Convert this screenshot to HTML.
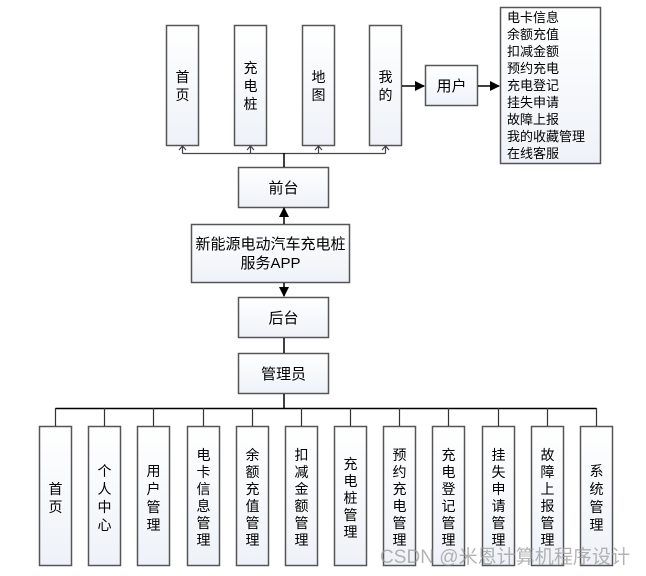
<!DOCTYPE html>
<html><head><meta charset="utf-8"><style>
html,body{margin:0;padding:0;background:#fff;}
svg{display:block;font-family:"Liberation Sans","Noto Sans CJK SC",sans-serif;}
</style></head><body>
<svg width="646" height="576" viewBox="0 0 646 576" xmlns="http://www.w3.org/2000/svg">
<defs>
<linearGradient id="g" x1="0" y1="0" x2="0" y2="1"><stop offset="0" stop-color="#fff"/><stop offset="1" stop-color="#eef2f8"/></linearGradient>
<marker id="a" markerWidth="10" markerHeight="10" refX="9" refY="5" orient="auto" markerUnits="userSpaceOnUse"><path d="M0,0 L10,5 L0,10 z" fill="#000"/></marker>
</defs>
<g stroke="#555" stroke-width="1.5" fill="url(#g)">
<rect x="166.5" y="25.5" width="32" height="120"/>
<rect x="234.5" y="25.5" width="32" height="120"/>
<rect x="302.5" y="25.5" width="32" height="120"/>
<rect x="369.5" y="25.5" width="32" height="120"/>
<rect x="425.5" y="65.5" width="52" height="40"/>
<rect x="500.5" y="7.5" width="100" height="156"/>
<rect x="238.5" y="167.5" width="90" height="40"/>
<rect x="191.5" y="224.5" width="158" height="58"/>
<rect x="238.5" y="297.5" width="90" height="40"/>
<rect x="238.5" y="353.5" width="90" height="40"/>
</g>
<g stroke="#555" stroke-width="1.5" fill="url(#g)">
<rect x="39.5" y="426.5" width="32" height="139"/>
<rect x="88.5" y="426.5" width="32" height="139"/>
<rect x="137.5" y="426.5" width="32" height="139"/>
<rect x="187.5" y="426.5" width="32" height="139"/>
<rect x="236.5" y="426.5" width="32" height="139"/>
<rect x="285.5" y="426.5" width="32" height="139"/>
<rect x="334.5" y="426.5" width="32" height="139"/>
<rect x="383.5" y="426.5" width="32" height="139"/>
<rect x="432.5" y="426.5" width="32" height="139"/>
<rect x="482.5" y="426.5" width="32" height="139"/>
<rect x="531.5" y="426.5" width="32" height="139"/>
<rect x="580.5" y="426.5" width="32" height="139"/>
</g>
<g stroke="#444" stroke-width="1.2" fill="none">
<path d="M182.5,153.5 H385.5 M182.5,153.5 V146 M250.5,153.5 V146 M318.5,153.5 V146 M385.5,153.5 V146"/>
<path d="M179,150 L182.5,146 L186,150 M247,150 L250.5,146 L254,150 M315,150 L318.5,146 L322,150 M382,150 L385.5,146 L389,150"/>
</g>
<g stroke="#000" stroke-width="1.5" fill="none">
<path d="M284,153 V167"/>
<path d="M402,86 H424" marker-end="url(#a)"/>
<path d="M478,86 H499" marker-end="url(#a)"/>
<path d="M284,224 V208" marker-end="url(#a)"/>
<path d="M284,283 V296" marker-end="url(#a)"/>
<path d="M284,338 V353"/>
<path d="M284,394 V408"/>
<path d="M55.5,408.5 H596.5"/>
</g>
<g stroke="#333" stroke-width="1.2">
<path d="M55.5,408 V426 M104.5,408 V426 M153.5,408 V426 M203.5,408 V426 M252.5,408 V426 M301.5,408 V426 M350.5,408 V426 M399.5,408 V426 M448.5,408 V426 M498.5,408 V426 M547.5,408 V426 M596.5,408 V426"/>
</g>
<g font-size="14" fill="#000" text-anchor="middle">
<text x="182.5" y="82">首</text><text x="182.5" y="100">页</text>
<text x="250.5" y="73">充</text><text x="250.5" y="91">电</text><text x="250.5" y="109">桩</text>
<text x="318.5" y="82">地</text><text x="318.5" y="100">图</text>
<text x="385.5" y="82">我</text><text x="385.5" y="100">的</text>
<text x="451.5" y="91" font-size="15">用户</text>
<text x="283.5" y="193" font-size="15">前台</text>
<text x="270.5" y="249" font-size="15">新能源电动汽车充电桩</text>
<text x="270.5" y="268" font-size="15">服务APP</text>
<text x="283.5" y="323" font-size="15">后台</text>
<text x="283.5" y="379" font-size="15">管理员</text>
</g>
<g font-size="13" fill="#000">
<text x="507" y="22">电卡信息</text>
<text x="507" y="39">余额充值</text>
<text x="507" y="56">扣减金额</text>
<text x="507" y="73">预约充电</text>
<text x="507" y="90">充电登记</text>
<text x="507" y="107">挂失申请</text>
<text x="507" y="124">故障上报</text>
<text x="507" y="141">我的收藏管理</text>
<text x="507" y="158">在线客服</text>
</g>
<g font-size="14" fill="#000" text-anchor="middle">
<text x="55.5" y="494">首</text><text x="55.5" y="512">页</text>
<text x="104.5" y="476">个</text><text x="104.5" y="494">人</text><text x="104.5" y="512">中</text><text x="104.5" y="530">心</text>
<text x="153.5" y="476">用</text><text x="153.5" y="494">户</text><text x="153.5" y="512">管</text><text x="153.5" y="530">理</text>
<text x="203.5" y="460">电</text><text x="203.5" y="477">卡</text><text x="203.5" y="494">信</text><text x="203.5" y="511">息</text><text x="203.5" y="528">管</text><text x="203.5" y="545">理</text>
<text x="252.5" y="460">余</text><text x="252.5" y="477">额</text><text x="252.5" y="494">充</text><text x="252.5" y="511">值</text><text x="252.5" y="528">管</text><text x="252.5" y="545">理</text>
<text x="301.5" y="460">扣</text><text x="301.5" y="477">减</text><text x="301.5" y="494">金</text><text x="301.5" y="511">额</text><text x="301.5" y="528">管</text><text x="301.5" y="545">理</text>
<text x="350.5" y="469">充</text><text x="350.5" y="486">电</text><text x="350.5" y="503">桩</text><text x="350.5" y="520">管</text><text x="350.5" y="537">理</text>
<text x="399.5" y="460">预</text><text x="399.5" y="477">约</text><text x="399.5" y="494">充</text><text x="399.5" y="511">电</text><text x="399.5" y="528">管</text><text x="399.5" y="545">理</text>
<text x="448.5" y="460">充</text><text x="448.5" y="477">电</text><text x="448.5" y="494">登</text><text x="448.5" y="511">记</text><text x="448.5" y="528">管</text><text x="448.5" y="545">理</text>
<text x="498.5" y="460">挂</text><text x="498.5" y="477">失</text><text x="498.5" y="494">申</text><text x="498.5" y="511">请</text><text x="498.5" y="528">管</text><text x="498.5" y="545">理</text>
<text x="547.5" y="460">故</text><text x="547.5" y="477">障</text><text x="547.5" y="494">上</text><text x="547.5" y="511">报</text><text x="547.5" y="528">管</text><text x="547.5" y="545">理</text>
<text x="596.5" y="476">系</text><text x="596.5" y="494">统</text><text x="596.5" y="512">管</text><text x="596.5" y="530">理</text>
</g>
<text x="380" y="563" font-size="19" fill="#999" fill-opacity="0.75" textLength="250" lengthAdjust="spacingAndGlyphs">CSDN @米恩计算机程序设计</text>
</svg>
</body></html>
